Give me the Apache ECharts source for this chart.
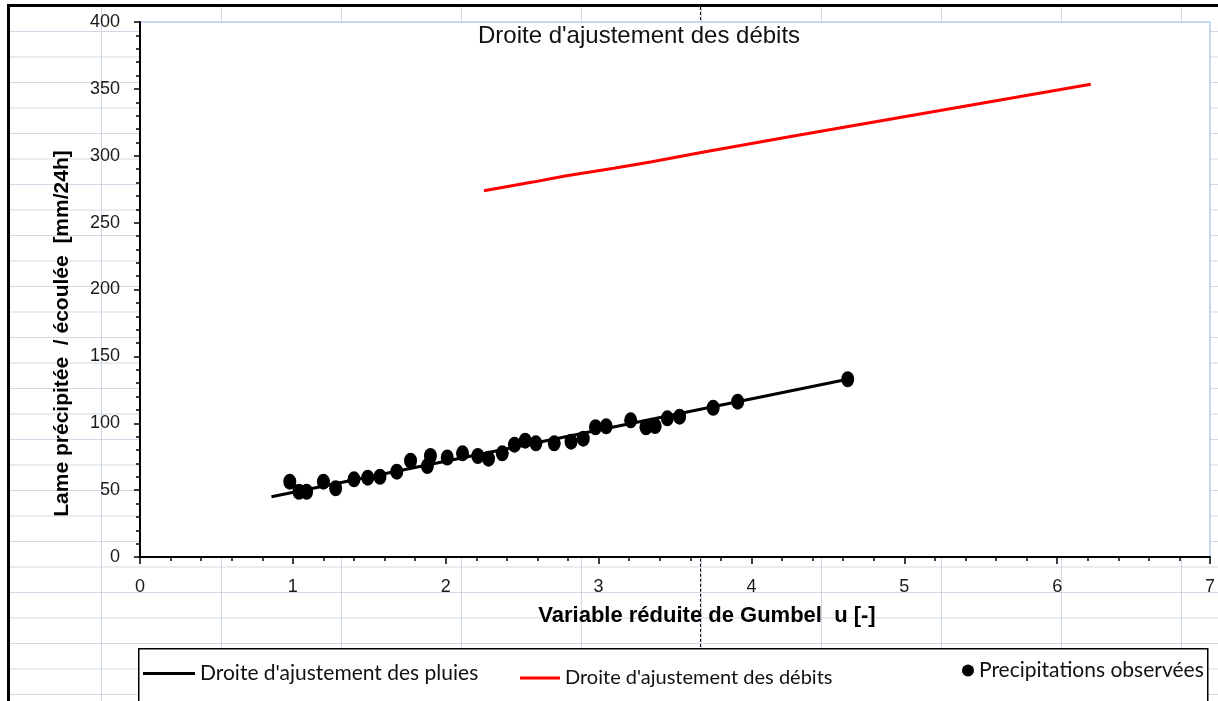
<!DOCTYPE html>
<html>
<head>
<meta charset="utf-8">
<script src="https://cdn.jsdelivr.net/npm/echarts@6/dist/echarts.min.js"></script>
<style>
  html, body { margin: 0; padding: 0; background: #fff; }
  #sheet {
    position: absolute; left: 0; top: 0; width: 1218px; height: 701px;
    background-image:
      linear-gradient(to right, #d0d7e5 1px, transparent 1px),
      linear-gradient(to bottom, #d0d7e5 1px, transparent 1px);
    background-size: 120px 25.5px;
    background-position: 101px 31px;
  }
  #whiteTop { position: absolute; left: 0; top: 0; width: 1218px; height: 4px; background: #fff; }
  #whiteLeft { position: absolute; left: 0; top: 0; width: 7px; height: 701px; background: #fff; }
  #frame {
    position: absolute; left: 7px; top: 4px; width: 1211px; height: 697px;
    border-left: 3px solid #000; border-top: 3px solid #000; box-sizing: border-box;
  }
  #pagebreak {
    position: absolute; left: 700px; top: 7px; width: 0; height: 660px;
    border-left: 1.5px dashed #000;
  }
  #chart { position: absolute; left: 0; top: 0; width: 1218px; height: 701px; }
</style>
</head>
<body>
<div id="sheet"></div>
<div id="whiteTop"></div>
<div id="whiteLeft"></div>
<div id="frame"></div>
<div id="pagebreak"></div>
<div id="chart"></div>
<script>
// Observed precipitation: Gumbel reduced variable u and rainfall (mm/24h)
const obsU = [0.98, 1.04, 1.09, 1.20, 1.28, 1.40, 1.49, 1.57, 1.68, 1.77, 1.88, 1.90, 2.01, 2.11, 2.21, 2.28, 2.37, 2.45, 2.52, 2.59, 2.71, 2.82, 2.90, 2.98, 3.05, 3.21, 3.31, 3.37, 3.45, 3.53, 3.75, 3.91, 4.63];
const obsP = [56.3, 48.8, 48.8, 56.3, 51.4, 58.1, 59.3, 60.0, 63.8, 72.0, 68.0, 75.5, 74.4, 77.5, 75.5, 73.5, 77.5, 84.0, 87.0, 85.0, 85.0, 86.2, 88.5, 97.0, 97.7, 102.2, 97.0, 97.9, 103.7, 104.9, 111.6, 116.1, 132.9];
// Fitted rainfall line
const pluiesU = [0.86, 4.63];
const pluiesP = [45.1, 132.9];
// Fitted discharge line
const debitsU = [2.25, 2.57, 2.78, 3.10, 3.34, 3.68, 4.23, 6.22];
const debitsQ = [273.9, 280.3, 284.9, 290.6, 295.4, 302.6, 313.8, 353.4];

const xTicks = [0, 1, 2, 3, 4, 5, 6, 7];
const yTicks = [0, 50, 100, 150, 200, 250, 300, 350, 400];

const nameP = "Droite d'ajustement des pluies";
const nameQ = "Droite d'ajustement des débits";
const nameObs = "Precipitations observées";

const zip = (a, b) => a.map((v, i) => [v, b[i]]);

const chart = echarts.init(document.getElementById('chart'), null, { renderer: 'canvas' });
const font = 'Liberation Sans, Arial, sans-serif';
const legendFont = 'Lato, Open Sans, sans-serif';
const legendText = { fontFamily: legendFont, fontSize: 21, color: '#111' };
const legendText2 = { fontFamily: legendFont, fontSize: 20, color: '#111' };

chart.setOption({
  backgroundColor: 'transparent',
  animation: false,
  title: {
    text: nameQ,
    left: 478, top: 24, padding: 0,
    textStyle: { fontFamily: font, fontSize: 24, fontWeight: 'normal', color: '#111' }
  },
  grid: {
    left: 140, top: 22, right: 5, bottom: 144,
    show: true, backgroundColor: '#fff', borderColor: '#8db3e2', borderWidth: 1
  },
  xAxis: {
    type: 'value', min: xTicks[0], max: xTicks[xTicks.length - 1], interval: 1,
    axisLine: { onZero: false, lineStyle: { color: '#000', width: 2 } },
    axisTick: { show: true, inside: false, length: 7, lineStyle: { color: '#000', width: 1.5 } },
    minorTick: { show: true, splitNumber: 5, length: 4, lineStyle: { color: '#000', width: 1.5 } },
    splitLine: { show: false },
    axisLabel: { margin: 21, fontFamily: font, fontSize: 18, color: '#1a1a1a' },
    name: 'Variable réduite de Gumbel  u [-]',
    nameLocation: 'middle', nameGap: 48,
    nameTextStyle: { fontFamily: font, fontSize: 22, fontWeight: 'bold', color: '#000', padding: [0, 0, 0, 64] }
  },
  yAxis: {
    type: 'value', min: yTicks[0], max: yTicks[yTicks.length - 1], interval: 50,
    axisLine: { show: true, lineStyle: { color: '#000', width: 2 } },
    axisTick: { show: true, inside: false, length: 6, lineStyle: { color: '#000', width: 1.5 } },
    minorTick: { show: true, splitNumber: 5, length: 4, lineStyle: { color: '#000', width: 1.5 } },
    splitLine: { show: false },
    axisLabel: { margin: 20, fontFamily: font, fontSize: 18, color: '#1a1a1a' },
    name: 'Lame précipitée  / écoulée  [mm/24h]',
    nameLocation: 'middle', nameGap: 67, nameRotate: 90,
    nameTextStyle: { fontFamily: font, fontSize: 21, fontWeight: 'bold', color: '#000', padding: [0, 88, 0, 0] }
  },
  legend: [
    { data: [{ name: nameP, icon: 'rect' }], left: 143, top: 663, padding: 0, itemWidth: 52, itemHeight: 3, itemGap: 4, textStyle: legendText, selectedMode: false },
    { data: [{ name: nameQ, icon: 'rect' }], left: 520, top: 668, padding: 0, itemWidth: 40, itemHeight: 3, itemGap: 4, textStyle: legendText2, selectedMode: false },
    { data: [{ name: nameObs, icon: 'circle' }], left: 962, top: 660, padding: 0, itemWidth: 12, itemHeight: 14, itemGap: 15, textStyle: legendText, selectedMode: false }
  ],
  graphic: [{
    type: 'rect', left: 138, top: 648, z: -1,
    shape: { width: 1069, height: 60 },
    style: { fill: '#fff', stroke: '#000', lineWidth: 1.5 }
  }],
  series: [
    {
      name: nameObs, type: 'scatter', data: zip(obsU, obsP),
      symbol: 'circle', symbolSize: [13, 16],
      itemStyle: { color: '#000', opacity: 1 }, z: 2
    },
    {
      name: nameP, type: 'line', data: zip(pluiesU, pluiesP),
      symbol: 'none', lineStyle: { color: '#000', width: 3 }, itemStyle: { color: '#000' }, z: 3
    },
    {
      name: nameQ, type: 'line', data: zip(debitsU, debitsQ),
      symbol: 'none', lineStyle: { color: '#ff0000', width: 3 }, itemStyle: { color: '#ff0000' }, z: 3
    }
  ]
});
</script>
</body>
</html>
